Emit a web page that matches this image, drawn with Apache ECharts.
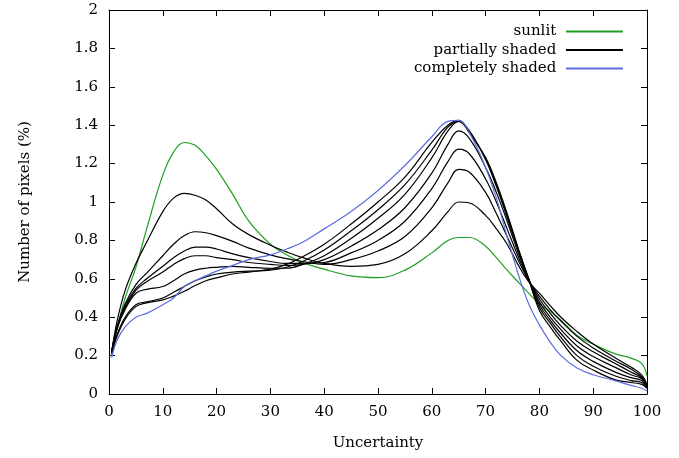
<!DOCTYPE html>
<html>
<head>
<meta charset="utf-8">
<script src="https://cdn.jsdelivr.net/npm/echarts@6/dist/echarts.min.js"></script>
<style>
  html, body { margin: 0; padding: 0; background: #fff; }
  #chart { width: 679px; height: 458px; }
</style>
</head>
<body>
<div id="chart"></div>
<script>
// uncertainty values (x) shared by every curve
const uncertainty = [0.5, 1.5, 3, 5, 7, 10, 12, 14, 16, 18, 20, 23, 26, 30, 33, 36, 40, 45, 50, 55,
  60, 63, 65, 67, 70, 72, 74, 76, 78, 80, 82, 84, 87, 90, 94, 97, 99, 100]

// number of pixels (%)
const sunlit = [0.20, 0.34, 0.50, 0.66, 0.86, 1.14, 1.26, 1.31, 1.295, 1.24, 1.17, 1.04, 0.90, 0.78, 0.725, 0.685, 0.65, 0.615, 0.606, 0.645,
  0.735, 0.80, 0.815, 0.815, 0.77, 0.71, 0.645, 0.585, 0.525, 0.47, 0.43, 0.385, 0.305, 0.26, 0.21, 0.187, 0.16, 0.095]

const partial1 = [0.22, 0.38, 0.54, 0.68, 0.79, 0.95, 1.02, 1.045, 1.035, 1.01, 0.965, 0.885, 0.83, 0.775, 0.74, 0.71, 0.68, 0.665, 0.675, 0.73,
  0.85, 0.95, 1.0, 0.995, 0.93, 0.86, 0.78, 0.675, 0.585, 0.525, 0.46, 0.40, 0.325, 0.26, 0.19, 0.14, 0.10, 0.05]
const partial2 = [0.22, 0.35, 0.47, 0.57, 0.63, 0.72, 0.78, 0.825, 0.845, 0.84, 0.825, 0.795, 0.76, 0.725, 0.705, 0.69, 0.675, 0.70, 0.745, 0.82,
  0.97, 1.10, 1.17, 1.155, 1.05, 0.94, 0.82, 0.70, 0.59, 0.51, 0.44, 0.38, 0.30, 0.24, 0.175, 0.13, 0.09, 0.045]
const partial3 = [0.22, 0.35, 0.46, 0.55, 0.60, 0.665, 0.71, 0.745, 0.765, 0.765, 0.755, 0.73, 0.71, 0.69, 0.68, 0.68, 0.685, 0.735, 0.80, 0.90,
  1.07, 1.21, 1.275, 1.25, 1.12, 1.00, 0.86, 0.72, 0.595, 0.495, 0.42, 0.355, 0.275, 0.22, 0.16, 0.115, 0.085, 0.04]
const partial4 = [0.22, 0.34, 0.45, 0.54, 0.585, 0.635, 0.675, 0.705, 0.72, 0.72, 0.71, 0.70, 0.685, 0.675, 0.67, 0.675, 0.70, 0.77, 0.855, 0.97,
  1.15, 1.30, 1.37, 1.33, 1.18, 1.05, 0.90, 0.74, 0.60, 0.48, 0.40, 0.335, 0.25, 0.195, 0.14, 0.10, 0.08, 0.04]
const partial5 = [0.22, 0.34, 0.44, 0.525, 0.545, 0.56, 0.59, 0.625, 0.645, 0.655, 0.66, 0.665, 0.66, 0.655, 0.655, 0.675, 0.72, 0.81, 0.915, 1.04,
  1.23, 1.37, 1.42, 1.37, 1.22, 1.08, 0.92, 0.755, 0.60, 0.465, 0.385, 0.315, 0.225, 0.17, 0.115, 0.085, 0.07, 0.035]
const partial6 = [0.21, 0.31, 0.40, 0.465, 0.48, 0.50, 0.53, 0.56, 0.59, 0.61, 0.625, 0.635, 0.64, 0.645, 0.66, 0.69, 0.75, 0.85, 0.96, 1.09,
  1.27, 1.39, 1.42, 1.36, 1.23, 1.09, 0.93, 0.76, 0.60, 0.45, 0.37, 0.295, 0.20, 0.145, 0.095, 0.07, 0.06, 0.03]
const partial7 = [0.21, 0.30, 0.39, 0.455, 0.475, 0.49, 0.51, 0.535, 0.565, 0.59, 0.605, 0.625, 0.635, 0.65, 0.675, 0.715, 0.78, 0.885, 1.0, 1.13,
  1.31, 1.40, 1.425, 1.36, 1.23, 1.10, 0.94, 0.765, 0.60, 0.435, 0.35, 0.275, 0.175, 0.125, 0.075, 0.06, 0.05, 0.03]
const partialCurves = [partial1, partial2, partial3, partial4, partial5, partial6, partial7]

const completelyShaded = [0.19, 0.28, 0.35, 0.40, 0.42, 0.465, 0.50, 0.56, 0.59, 0.615, 0.64, 0.67, 0.70, 0.725, 0.755, 0.79, 0.86, 0.95, 1.06, 1.19,
  1.34, 1.42, 1.425, 1.36, 1.18, 1.02, 0.82, 0.63, 0.47, 0.36, 0.27, 0.20, 0.135, 0.10, 0.07, 0.045, 0.03, 0.015]

const xTicks = { min: 0, max: 100, interval: 10 }
const yTicks = { min: 0, max: 2, interval: 0.2 }

const FONT = 'DejaVu Serif'
const GREEN = '#1f9e1f'
const BLUE = '#5b6de0'

const pairs = (ys) => uncertainty.map((x, i) => [x, ys[i]])

const makeLine = (name, ys, color) => ({
  name: name,
  type: 'line',
  data: pairs(ys),
  smooth: 0.4,
  symbol: 'none',
  lineStyle: { color: color, width: 1.2 },
  itemStyle: { color: color },
  silent: true
})

const chart = echarts.init(document.getElementById('chart'))

const series = [makeLine('sunlit', sunlit, GREEN)]
partialCurves.forEach(c => series.push(makeLine('partially shaded', c, '#000')))
series.push(makeLine('completely shaded', completelyShaded, BLUE))

const tickStyle = { inside: true, length: 6, lineStyle: { color: '#000', width: 1 } }
const lineStyle = { show: true, onZero: false, lineStyle: { color: '#000', width: 1 } }

chart.setOption({
  animation: false,
  backgroundColor: '#fff',
  textStyle: { fontFamily: FONT },
  grid: { left: 109, right: 32, top: 10, bottom: 64 },
  legend: {
    orient: 'vertical',
    align: 'right',
    right: 50,
    top: 19,
    itemWidth: 57,
    itemHeight: 14,
    itemGap: 3.5,
    itemStyle: { opacity: 0 },
    formatter: (name) => name + ' ',
    data: ['sunlit', 'partially shaded', 'completely shaded'],
    textStyle: { fontFamily: FONT, fontSize: 15, color: '#000' }
  },
  xAxis: [
    {
      type: 'value', ...xTicks,
      name: 'Uncertainty',
      nameLocation: 'middle',
      nameGap: 42,
      nameTextStyle: { fontFamily: FONT, fontSize: 15, color: '#000' },
      axisLine: lineStyle,
      axisTick: tickStyle,
      axisLabel: { color: '#000', fontFamily: FONT, fontSize: 15, margin: 11 },
      splitLine: { show: false }
    },
    {
      type: 'value', ...xTicks, position: 'top',
      axisLine: lineStyle,
      axisTick: tickStyle,
      axisLabel: { show: false },
      splitLine: { show: false }
    }
  ],
  yAxis: [
    {
      type: 'value', ...yTicks,
      name: 'Number of pixels (%)',
      nameLocation: 'middle',
      nameGap: 76,
      nameTextStyle: { fontFamily: FONT, fontSize: 15, color: '#000' },
      axisLine: lineStyle,
      axisTick: tickStyle,
      axisLabel: { color: '#000', fontFamily: FONT, fontSize: 15, margin: 11 },
      splitLine: { show: false }
    },
    {
      type: 'value', ...yTicks, position: 'right',
      axisLine: lineStyle,
      axisTick: tickStyle,
      axisLabel: { show: false },
      splitLine: { show: false }
    }
  ],
  series: series
})
</script>
</body>
</html>
